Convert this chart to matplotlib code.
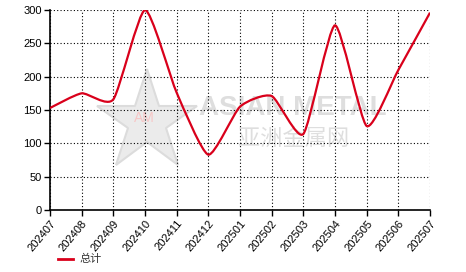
"""Monthly total, 202407-202507, smoothed line."""

import matplotlib
matplotlib.use('Agg')
import matplotlib.pyplot as plt
from matplotlib.path import Path
from matplotlib.patches import PathPatch
from matplotlib.lines import Line2D
import numpy as np

months = ['202407', '202408', '202409', '202410', '202411', '202412', '202501',
          '202502', '202503', '202504', '202505', '202506', '202507']
total = [153, 175, 166, 300, 176, 83, 155, 171, 114, 277, 126, 210, 296]

plt.rcParams['font.family'] = ['Liberation Sans', 'Noto Sans CJK SC', 'DejaVu Sans']

LINE_RED = '#d9001b'


def spline_path(xs, ys, tension=0.3):
    # cardinal spline through the points, as bezier segments
    n = len(xs)
    verts = [(xs[0], ys[0])]
    codes = [Path.MOVETO]
    for i in range(n - 1):
        x0, y0 = (xs[i - 1], ys[i - 1]) if i > 0 else (xs[i], ys[i])
        x1, y1 = xs[i], ys[i]
        x2, y2 = xs[i + 1], ys[i + 1]
        x3, y3 = (xs[i + 2], ys[i + 2]) if i + 2 < n else (x2, y2)
        c1 = (x1 + (x2 - x0) * tension / 3, y1 + (y2 - y0) * tension / 3)
        c2 = (x2 - (x3 - x1) * tension / 3, y2 - (y3 - y1) * tension / 3)
        verts += [c1, c2, (x2, y2)]
        codes += [Path.CURVE4] * 3
    return Path(verts, codes)


fig = plt.figure(figsize=(4.66, 2.72), dpi=100)
ax = fig.add_axes([50 / 466, 62 / 272, 380 / 466, 200 / 272])

x = np.arange(len(months))

# watermark
ax.plot([3.05], [132], marker='*', markersize=76, color='#ebebeb', zorder=0,
        markeredgecolor='#dcdcdc', markeredgewidth=1.5)
ax.text(2.97, 138, 'AM', color='#f7c6c6', fontsize=10, ha='center', va='center', zorder=0)
ax.text(7.67, 153, 'ASIAN METAL', color='#dedede', fontsize=20, fontweight='bold',
        ha='center', va='center', zorder=0)
ax.text(7.7, 108, '亚洲金属网', color='#dedede', fontsize=16, ha='center', va='center',
        family=['Noto Sans CJK SC'], zorder=0)

ax.add_patch(PathPatch(spline_path(list(x), total), facecolor='none',
                       edgecolor=LINE_RED, linewidth=1.6, zorder=3))

ax.set_xlim(0, len(months) - 1)
ax.set_ylim(0, 300)
ax.set_yticks(np.arange(0, 301, 50))
ax.set_xticks(x)
ax.set_xticklabels(months)
ax.tick_params(labelsize=8, length=4, width=1, pad=2)
ax.tick_params(axis='x', labelrotation=50)
plt.setp(ax.get_xticklabels(), ha='right', rotation_mode='anchor')

ax.grid(True, color='black', linestyle=(0, (1, 2)), linewidth=0.8)
for side in ('top', 'right'):
    ax.spines[side].set_visible(False)
for side in ('left', 'bottom'):
    ax.spines[side].set_linewidth(1.2)

# legend drawn by hand at the lower left
fig.add_artist(Line2D([58 / 466, 73 / 466], [13 / 272, 13 / 272], color=LINE_RED,
                      linewidth=2, transform=fig.transFigure))
fig.text(79 / 466, 13 / 272, '总计', fontsize=8, color='#333333', va='center')

fig.savefig('out.png', dpi=100)
